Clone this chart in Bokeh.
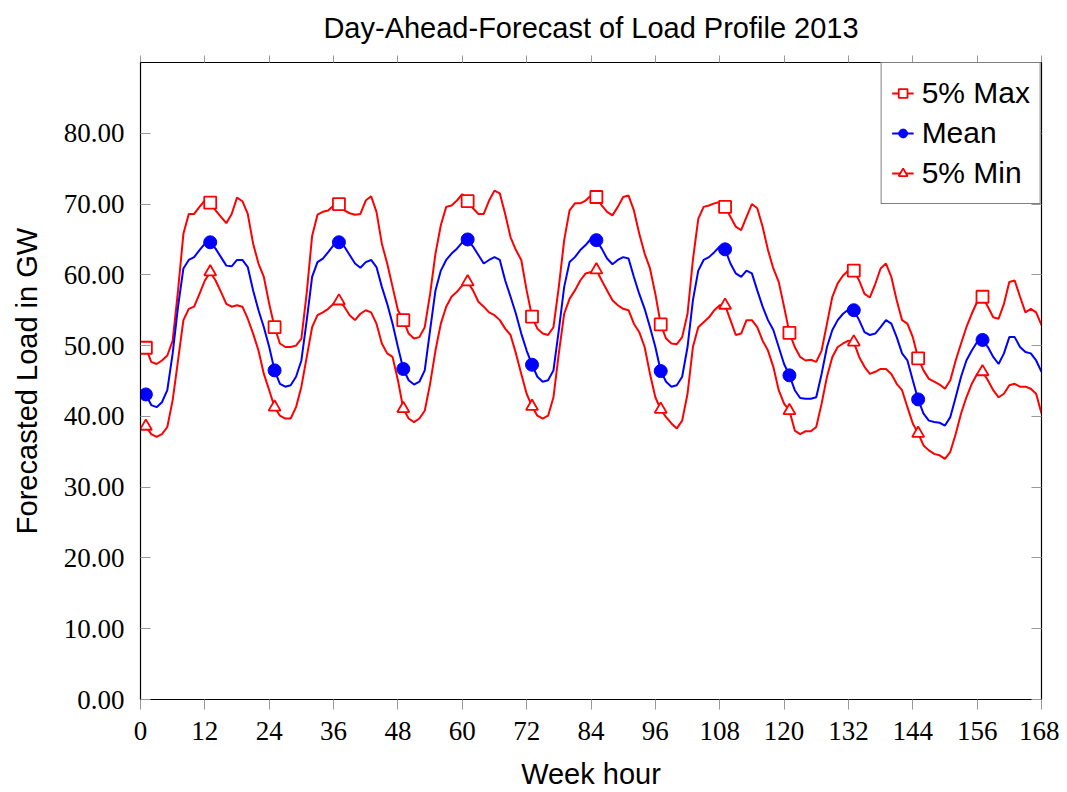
from bokeh.plotting import figure
from bokeh.models import (ColumnDataSource, Range1d, LinearAxis, FixedTicker,
                          PrintfTickFormatter, Legend, LegendItem)
from bokeh.embed import file_html
from bokeh.resources import INLINE

TITLE = "Day-Ahead-Forecast of Load Profile 2013"
hours = list(range(1, 169))

max5 = [
    49.7, 47.7, 47.4, 47.9, 48.6, 50.7, 57.8, 65.8, 68.6, 68.6, 69.6, 70.5, 70.2, 69.1, 68.2, 67.3, 68.6, 70.9, 70.4, 68.6, 64.4, 61.6, 59.7, 55.9, 52.6, 50.3, 49.8, 49.8,
    50.0, 51.0, 57.5, 65.5, 68.5, 68.9, 69.1, 69.8, 70.0, 69.1, 68.7, 68.5, 68.6, 70.5, 71.1, 68.9, 64.4, 61.6, 58.3, 55.0, 53.6, 51.7, 51.0, 51.2, 52.6, 57.3, 63.0, 67.0,
    69.6, 69.8, 70.5, 71.4, 70.4, 69.4, 68.6, 68.6, 70.5, 71.9, 71.5, 68.6, 65.3, 63.5, 62.1, 57.8, 54.1, 52.4, 51.7, 51.5, 52.6, 58.3, 64.9, 69.1, 70.1, 70.1, 70.5, 71.2,
    71.0, 69.8, 68.9, 68.4, 69.6, 71.0, 71.2, 69.1, 65.8, 63.0, 60.9, 57.3, 53.0, 51.0, 50.3, 50.2, 51.2, 54.5, 62.1, 67.9, 69.6, 69.8, 70.1, 70.3, 69.6, 68.2, 66.8, 66.3,
    68.2, 70.0, 69.4, 66.8, 63.5, 60.9, 59.0, 55.5, 51.8, 49.8, 48.4, 47.9, 48.0, 47.7, 49.3, 53.1, 56.9, 58.8, 59.9, 60.6, 60.6, 59.2, 57.3, 56.8, 58.7, 60.9, 61.6, 59.7,
    56.4, 53.6, 53.1, 51.2, 48.2, 46.5, 45.3, 44.9, 44.5, 43.9, 45.1, 47.9, 50.3, 52.6, 54.5, 56.2, 56.9, 55.5, 54.0, 53.8, 55.9, 59.0, 59.2, 56.9, 54.7, 55.2, 54.7, 52.9,
]

mean = [
    43.1, 41.6, 41.3, 42.0, 43.7, 48.9, 55.5, 60.9, 62.1, 62.5, 63.5, 64.4, 64.6, 63.7, 62.5, 61.3, 61.2, 62.1, 62.1, 61.1, 57.8, 55.0, 52.6, 49.8, 46.5, 44.6, 44.2, 44.4,
    45.6, 47.9, 53.6, 59.7, 61.8, 62.3, 63.2, 64.2, 64.6, 64.0, 62.8, 61.6, 61.0, 61.8, 62.1, 61.1, 58.3, 55.9, 53.1, 49.8, 46.7, 45.1, 44.5, 44.9, 46.5, 52.2, 57.8, 60.6,
    62.1, 63.0, 63.7, 64.6, 65.0, 64.0, 62.8, 61.6, 62.1, 62.5, 62.1, 59.2, 56.9, 54.5, 51.7, 49.3, 47.3, 45.6, 44.9, 45.1, 46.5, 52.2, 58.3, 61.8, 62.5, 63.5, 64.2, 65.1,
    64.9, 63.7, 62.3, 61.5, 62.1, 62.5, 62.3, 59.7, 57.3, 55.2, 52.6, 49.8, 46.4, 44.9, 44.2, 44.4, 45.6, 49.8, 56.4, 60.6, 62.1, 62.5, 63.2, 64.0, 63.6, 61.6, 60.2, 59.7,
    60.6, 60.2, 57.8, 55.5, 53.6, 52.2, 49.8, 47.4, 45.8, 43.7, 42.6, 42.5, 42.5, 42.7, 46.0, 49.8, 52.2, 53.6, 54.5, 55.1, 55.0, 53.6, 51.9, 51.5, 51.7, 52.6, 53.6, 53.1,
    51.2, 48.9, 47.9, 45.1, 42.4, 40.4, 39.4, 39.2, 39.1, 38.7, 39.9, 42.7, 45.6, 47.9, 49.3, 50.5, 50.8, 49.8, 48.4, 47.4, 48.9, 51.2, 51.2, 49.8, 49.1, 48.9, 47.9, 46.3,
]

min5 = [
    38.6, 37.5, 37.1, 37.5, 38.5, 42.3, 47.9, 53.6, 55.2, 55.5, 57.3, 59.2, 60.4, 59.2, 57.6, 55.9, 55.5, 55.7, 55.5, 53.8, 51.7, 49.3, 46.0, 43.7, 41.3, 40.1, 39.7, 39.7,
    41.3, 44.2, 48.4, 52.6, 54.3, 54.7, 55.2, 55.9, 56.3, 55.5, 54.3, 53.6, 54.5, 55.0, 54.7, 53.1, 50.3, 48.9, 48.4, 45.1, 41.1, 39.7, 39.2, 39.7, 40.8, 44.6, 49.3, 53.1,
    55.5, 56.9, 57.6, 58.5, 59.0, 57.8, 56.2, 55.5, 54.7, 54.3, 53.6, 52.4, 51.5, 48.9, 46.0, 43.2, 41.4, 40.1, 39.7, 40.1, 42.7, 48.9, 54.5, 56.6, 57.8, 59.2, 60.2, 60.4,
    60.7, 59.2, 57.8, 56.4, 55.7, 55.2, 55.0, 53.1, 51.9, 49.8, 46.0, 42.7, 41.0, 39.9, 39.0, 38.3, 39.4, 43.2, 49.8, 52.6, 53.3, 54.0, 55.0, 55.7, 55.7, 53.6, 51.5, 51.7,
    53.6, 53.6, 52.6, 50.7, 49.3, 47.0, 43.7, 41.8, 40.8, 38.0, 37.5, 37.9, 37.9, 38.5, 41.8, 45.6, 48.4, 49.8, 50.3, 50.7, 50.5, 48.4, 47.0, 46.0, 46.3, 46.7, 46.7, 46.0,
    44.6, 43.7, 41.3, 39.0, 37.6, 35.9, 35.2, 34.7, 34.5, 34.0, 35.0, 37.5, 40.4, 42.7, 44.6, 46.0, 46.3, 45.1, 43.7, 42.7, 43.2, 44.4, 44.6, 44.2, 44.2, 43.9, 43.2, 40.4,
]

x_ticks = list(range(0, 169, 12))
y_ticks = list(range(0, 81, 10))
mark_every = 12

src = ColumnDataSource(dict(h=hours, mx=max5, mn=mean, mi=min5))
msrc = ColumnDataSource(dict(h=hours[::mark_every], mx=max5[::mark_every],
                             mn=mean[::mark_every], mi=min5[::mark_every]))

SANS = "Liberation Sans"
SERIF = "Liberation Serif"

p = figure(width=1059, height=792, output_backend="svg", toolbar_location=None,
           x_range=Range1d(0, 168), y_range=Range1d(0, 90),
           min_border_left=140, min_border_right=18, min_border_top=62,
           min_border_bottom=93, title=TITLE)
p.title.align = "center"
p.title.vertical_align = "top"
p.title.text_font = SANS
p.title.text_font_size = "29px"
p.title.text_font_style = "normal"
p.title.text_color = "black"
p.title.standoff = 19
p.xgrid.visible = False
p.ygrid.visible = False
p.outline_line_color = "black"
p.outline_line_width = 1.2

for ax in (p.xaxis[0], p.yaxis[0]):
    ax.axis_line_color = "black"
    ax.major_tick_line_color = "#999999"
    ax.minor_tick_line_color = None
    ax.major_label_text_font = SERIF
    ax.major_label_text_font_size = "27px"
    ax.major_label_text_color = "black"
    ax.axis_label_text_font = SANS
    ax.axis_label_text_font_size = "29px"
    ax.axis_label_text_font_style = "normal"
    ax.axis_label_text_color = "black"

p.xaxis.ticker = FixedTicker(ticks=x_ticks)
p.xaxis.major_tick_in = 0
p.xaxis.major_tick_out = 10
p.xaxis.major_label_standoff = 12
p.xaxis.axis_label = "Week hour"
p.xaxis.axis_label_standoff = 15

p.yaxis.ticker = FixedTicker(ticks=y_ticks)
p.yaxis.formatter = PrintfTickFormatter(format="%.2f")
p.yaxis.major_tick_in = 10
p.yaxis.major_tick_out = 0
p.yaxis.major_label_standoff = 16
p.yaxis.axis_label = "Forecasted Load in GW"
p.yaxis.axis_label_standoff = 18

top = LinearAxis(ticker=FixedTicker(ticks=x_ticks), major_label_text_font_size="1px",
                 major_label_text_color=None, major_label_standoff=0,
                 major_tick_in=0, major_tick_out=7, major_tick_line_color="#999999",
                 minor_tick_line_color=None, axis_line_color="black")
right = LinearAxis(ticker=FixedTicker(ticks=y_ticks), major_label_text_font_size="1px",
                   major_label_text_color=None, major_label_standoff=0,
                   major_tick_in=10, major_tick_out=0, major_tick_line_color="#999999",
                   minor_tick_line_color=None, axis_line_color="black")
p.add_layout(top, "above")
p.add_layout(right, "right")

l1 = p.line("h", "mx", source=src, color="red", line_width=2)
m1 = p.scatter("h", "mx", source=msrc, marker="square", size=12, line_color="red",
               fill_color="white", line_width=1.8)
l2 = p.line("h", "mn", source=src, color="blue", line_width=2)
m2 = p.scatter("h", "mn", source=msrc, marker="circle", size=13, line_color="blue",
               fill_color="blue")
l3 = p.line("h", "mi", source=src, color="red", line_width=2)
m3 = p.scatter("h", "mi", source=msrc, marker="triangle", size=12, line_color="red",
               fill_color="white", line_width=1.8)

legend = Legend(items=[LegendItem(label="5% Max", renderers=[l1, m1]),
                       LegendItem(label="Mean", renderers=[l2, m2]),
                       LegendItem(label="5% Min", renderers=[l3, m3])],
                location="top_right", margin=0, padding=10, spacing=0,
                label_standoff=8,
                border_line_color="black", border_line_width=1.2,
                label_text_font=SANS, label_text_font_size="30px",
                label_text_color="black",
                glyph_width=22, glyph_height=30, label_height=40,
                background_fill_alpha=1.0)
p.add_layout(legend)

open("out.html", "w").write(file_html(p, INLINE))
